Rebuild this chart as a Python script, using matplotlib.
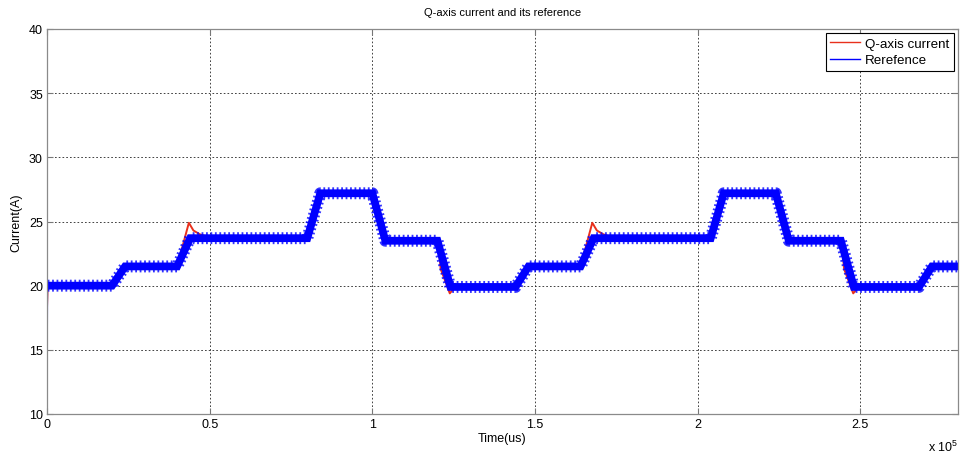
import matplotlib
matplotlib.use("Agg")
import matplotlib.pyplot as plt
from matplotlib.ticker import FuncFormatter, MultipleLocator

plt.rcParams.update({
    "font.family": ["Liberation Sans", "DejaVu Sans"],
    "mathtext.fontset": "custom",
    "mathtext.rm": "Liberation Sans",
    "font.size": 9,
})

# reference current: breakpoints (time in us, current in A)
ref_t = [0, 200, 20000, 24000, 40000, 44000, 80000, 84000, 100000, 104000,
         120000, 124000, 144000, 148000, 164000, 168000, 204000, 208000,
         224000, 228000, 244000, 248000, 268000, 272000, 280000]
ref_i = [10, 20, 20, 21.5, 21.5, 23.7, 23.7, 27.2, 27.2, 23.5,
         23.5, 19.9, 19.9, 21.5, 21.5, 23.7, 23.7, 27.2,
         27.2, 23.5, 23.5, 19.9, 19.9, 21.5, 21.5]

# measured q-axis current (visible where it leaves the reference band)
cur_t = [0, 200, 20000, 24000, 40000, 43600, 45000, 47000, 50000, 80000,
         84000, 100000, 104000, 120200, 121000, 123800, 125400, 144000,
         148000, 164000, 167600, 169000, 171000, 174000, 204000, 208000,
         224000, 228000, 244200, 245000, 247800, 249400, 268000, 272000, 280000]
cur_i = [18.3, 20, 20, 21.5, 21.5, 24.9, 24.3, 24.0, 23.75, 23.7,
         27.2, 27.2, 23.5, 23.5, 21.3, 19.4, 19.9, 19.9,
         21.5, 21.5, 24.9, 24.3, 24.0, 23.75, 23.7, 27.2,
         27.2, 23.5, 23.5, 21.3, 19.4, 19.9, 19.9, 21.5, 21.5]

blue = "#0000ff"
red = "#e8301c"

fig = plt.figure(figsize=(9.6, 4.56), dpi=100)
ax = fig.add_axes([47/960, 41/456, 911/960, 385/456])

ax.plot(cur_t, cur_i, color=red, lw=1.4, label="Q-axis current")
ax.plot(ref_t, ref_i, color=blue, lw=0.8, alpha=0.6, label="Rerefence")

# thick band for the switching ripple on the reference (skip start-up spike)
band_t, band_i = ref_t[1:], ref_i[1:]
ax.plot(band_t, band_i, color=blue, lw=5.6, solid_joinstyle="miter")
lw_teeth = 8.6
ax.plot(band_t, band_i, color=blue, lw=lw_teeth, alpha=0.8,
        dashes=(1.3 / lw_teeth, 1.9 / lw_teeth), dash_capstyle="butt")

ax.set_xlim(0, 2.8e5)
ax.set_ylim(10, 40)
ax.xaxis.set_major_locator(MultipleLocator(0.5e5))
ax.yaxis.set_major_locator(MultipleLocator(5))
ax.xaxis.set_major_formatter(FuncFormatter(lambda v, p: f"{v/1e5:g}"))
ax.grid(True, color="#222222", lw=0.6, linestyle=(0, (2, 2.5)))
ax.tick_params(direction="in", length=4, top=True, right=True,
               color="#777777", labelsize=9, pad=3)
for s in ax.spines.values():
    s.set_color("#8a8a8a")
    s.set_linewidth(0.9)

ax.set_title("Q-axis current and its reference", fontsize=8, pad=10)
ax.set_xlabel("Time(us)", fontsize=9, labelpad=1)
ax.set_ylabel("Current(A)", fontsize=9, labelpad=5)
ax.text(1.0, -0.083, r"x 10$^{5}$", transform=ax.transAxes,
        ha="right", va="center", fontsize=9)

leg = ax.legend(loc="upper right", fontsize=9.6, fancybox=False, framealpha=1,
                edgecolor="black", handlelength=2.2, borderaxespad=0.3,
                borderpad=0.35, labelspacing=0.3, handletextpad=0.4)
leg.get_frame().set_linewidth(0.8)
for h in leg.get_lines():
    h.set_linewidth(1.0)
    h.set_alpha(1)

fig.savefig("out.png", dpi=100, facecolor="white")
